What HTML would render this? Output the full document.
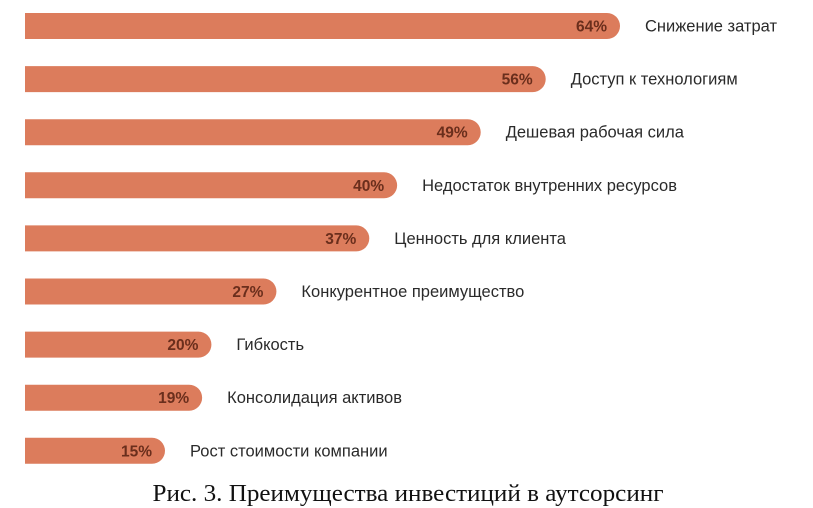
<!DOCTYPE html>
<html><head><meta charset="utf-8"><style>
body{margin:0;background:#fff;width:813px;height:508px;overflow:hidden}
svg{display:block}
</style></head><body>
<svg id="chart" width="813" height="508" xmlns="http://www.w3.org/2000/svg">
<g id="bars"></g>
<text x="408" y="501" text-anchor="middle" font-family="Liberation Serif, serif" font-size="24" fill="#111" textLength="511" lengthAdjust="spacingAndGlyphs">Рис. 3. Преимущества инвестиций в аутсорсинг</text>
</svg>
<script>
const categories = ["Снижение затрат","Доступ к технологиям","Дешевая рабочая сила","Недостаток внутренних ресурсов","Ценность для клиента","Конкурентное преимущество","Гибкость","Консолидация активов","Рост стоимости компании"];
const values = [64,56,49,40,37,27,20,19,15];
const valueLabels = ["64%","56%","49%","40%","37%","27%","20%","19%","15%"];
const NS="http://www.w3.org/2000/svg";
const x0=25.7, scale=9.286, y0=26, step=53.1, h=26;
function xScale(v){return x0+v*scale;}
function yScale(i){return y0+i*step;}
const g=document.getElementById('bars');
categories.forEach((c,i)=>{
  const xe=xScale(values[i]), yc=yScale(i), r=h/2;
  const p=document.createElementNS(NS,'path');
  
  
  p.setAttribute('d',`M25 ${yc-r} H${xe-r} A${r} ${r} 0 0 1 ${xe-r} ${yc+r} H25 Z`);
  p.setAttribute('fill','#dc7c5c');
  g.appendChild(p);
  const t=document.createElementNS(NS,'text');
  
  
  t.setAttribute('x',xe-13);t.setAttribute('y',yc+5.5);
  t.setAttribute('text-anchor','end');
  t.setAttribute('font-family','Liberation Sans, sans-serif');
  t.setAttribute('font-size','15.5');t.setAttribute('font-weight','bold');t.setAttribute('fill','#6a2e1c');
  t.textContent=valueLabels[i];g.appendChild(t);
  const l=document.createElementNS(NS,'text');
  
  
  l.setAttribute('x',xe+25);l.setAttribute('y',yc+5.5);
  l.setAttribute('font-family','Liberation Sans, sans-serif');
  l.setAttribute('font-size','16.5');l.setAttribute('fill','#2a2a2a');
  l.textContent=c;g.appendChild(l);
});
</script>
</body></html>
